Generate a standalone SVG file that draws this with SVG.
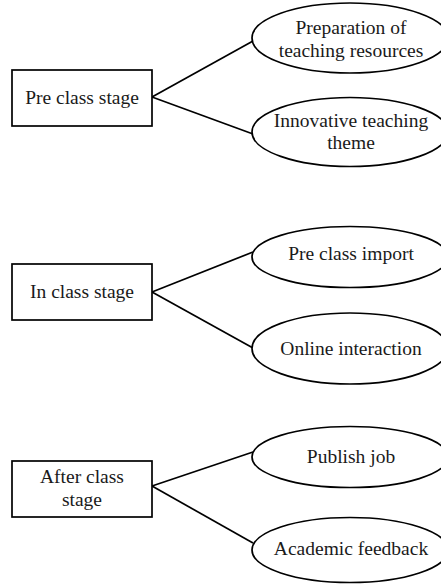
<svg xmlns="http://www.w3.org/2000/svg" width="441" height="584" viewBox="0 0 441 584">
<style>
.box{fill:#fff;stroke:#000;stroke-width:1.7}
.ell{fill:#fff;stroke:#000;stroke-width:1.7}
.conn line{stroke:#000;stroke-width:1.7}
text{font-family:"Liberation Serif","Times New Roman",serif;font-size:19.5px;fill:#1a1a1a;text-anchor:middle}
</style>
<rect width="441" height="584" fill="#fff"/>
<g id="connectors" class="conn">
<line x1="152" y1="97" x2="253" y2="41"/>
<line x1="152" y1="97" x2="253" y2="134"/>
<line x1="152" y1="292" x2="253" y2="252"/>
<line x1="152" y1="292" x2="253" y2="348"/>
<line x1="152" y1="486" x2="253" y2="452"/>
<line x1="152" y1="486" x2="253" y2="543"/>
</g>
<g id="pre-class-stage">
<rect class="box" x="12" y="70" width="140" height="56"/>
<text x="82" y="104">Pre class stage</text>
</g>
<g id="preparation">
<ellipse class="ell" cx="350" cy="38" rx="98" ry="35"/>
<text x="351" y="34">Preparation of</text>
<text x="351" y="57">teaching resources</text>
</g>
<g id="innovative">
<ellipse class="ell" cx="350" cy="132" rx="98" ry="34.5"/>
<text x="351" y="127">Innovative teaching</text>
<text x="351" y="149">theme</text>
</g>
<g id="in-class-stage">
<rect class="box" x="12" y="264" width="140" height="56"/>
<text x="82" y="298">In class stage</text>
</g>
<g id="pre-class-import">
<ellipse class="ell" cx="350" cy="257" rx="98" ry="30.5"/>
<text x="351" y="260">Pre class import</text>
</g>
<g id="online-interaction">
<ellipse class="ell" cx="350" cy="348.5" rx="98" ry="35.5"/>
<text x="351" y="355">Online interaction</text>
</g>
<g id="after-class-stage">
<rect class="box" x="12" y="461" width="140" height="56"/>
<text x="82" y="483">After class</text>
<text x="82" y="505.5">stage</text>
</g>
<g id="publish-job">
<ellipse class="ell" cx="350" cy="457" rx="98" ry="30.5"/>
<text x="351" y="463">Publish job</text>
</g>
<g id="academic-feedback">
<ellipse class="ell" cx="350" cy="550" rx="98" ry="32.5"/>
<text x="351" y="555">Academic feedback</text>
</g>
</svg>
